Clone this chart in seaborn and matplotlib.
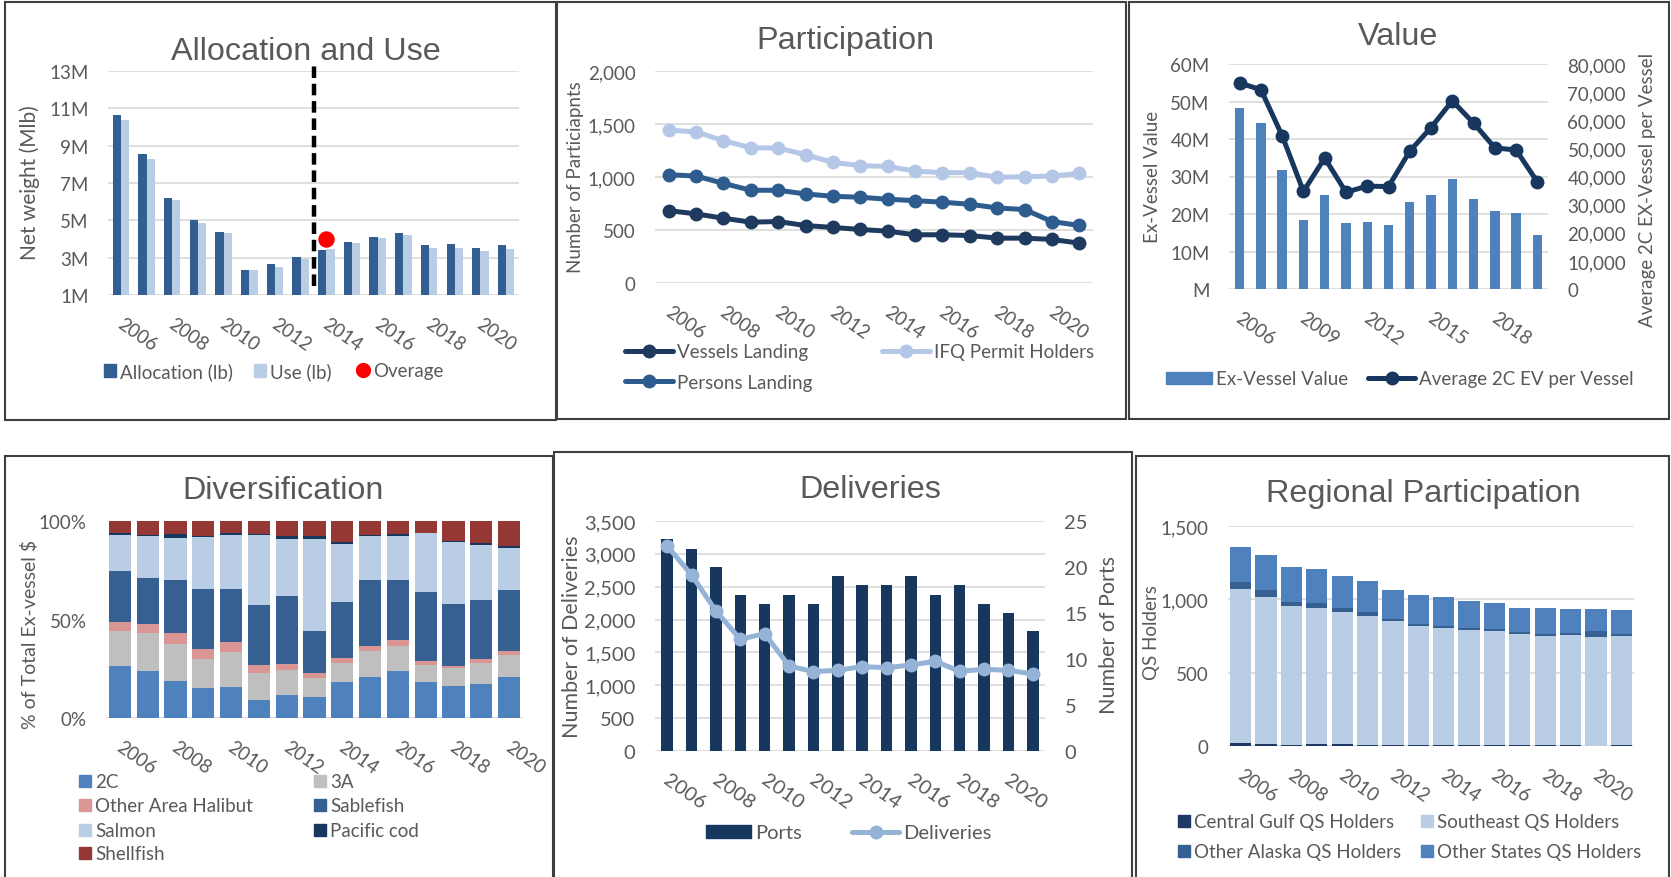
import numpy as np
import pandas as pd
import matplotlib
matplotlib.use("Agg")
import matplotlib.pyplot as plt
import seaborn as sns
from matplotlib.patches import Rectangle, Patch
from matplotlib.lines import Line2D
from matplotlib.transforms import ScaledTranslation

# ---------------- data ----------------
years_16 = list(range(2006, 2022))
years_15 = list(range(2006, 2021))

# Allocation and Use (lb)
allocation_lb = [10.63e6, 8.54e6, 6.21e6, 5.04e6, 4.39e6, 2.34e6, 2.64e6, 3.04e6,
                 3.41e6, 3.86e6, 4.11e6, 4.34e6, 3.66e6, 3.71e6, 3.54e6, 3.66e6]
use_lb = [10.38e6, 8.30e6, 6.11e6, 4.84e6, 4.34e6, 2.34e6, 2.52e6, 2.91e6,
          3.48e6, 3.77e6, 4.04e6, 4.23e6, 3.54e6, 3.54e6, 3.34e6, 3.48e6]
overage_year = [2014]
overage_lb = [3.98e6]
policy_break_year = 2014

# Participation
vessels_landing = [683, 652, 611, 574, 580, 542, 524, 505, 489, 455, 455, 448, 423, 423, 411, 376]
persons_landing = [1022, 1009, 940, 875, 875, 840, 818, 809, 790, 777, 762, 743, 708, 693, 580, 543]
ifq_permit_holders = [1442, 1426, 1342, 1276, 1273, 1210, 1138, 1107, 1100, 1056, 1041, 1041,
                      997, 1003, 1009, 1034]

# Value
ex_vessel_value = [48.4e6, 44.3e6, 31.8e6, 18.3e6, 25.2e6, 17.7e6, 18.0e6, 17.1e6,
                   23.1e6, 25.2e6, 29.3e6, 24.0e6, 20.8e6, 20.2e6, 14.5e6]
avg_2c_ev_per_vessel = [73200, 70900, 54500, 34700, 46600, 34400, 36600, 36400,
                        49000, 57400, 66900, 59000, 50200, 49400, 38100]

# Diversification (% of total ex-vessel $)
div_2c = [26.4, 24.0, 18.6, 15.0, 15.5, 9.1, 11.5, 10.8, 18.1, 20.9, 24.0, 18.1, 16.2, 17.4, 20.9]
div_3a = [17.7, 18.9, 18.9, 14.9, 17.9, 13.7, 13.0, 9.6, 9.9, 13.1, 12.5, 8.9, 9.0, 10.6, 11.2]
div_other_halibut = [4.7, 4.7, 5.9, 4.9, 5.3, 4.1, 3.0, 2.2, 2.6, 2.8, 2.9, 1.7, 1.2, 1.7, 1.9]
div_sablefish = [25.7, 23.3, 26.4, 30.7, 26.8, 30.4, 34.5, 21.7, 28.5, 33.0, 30.9, 35.2, 31.4, 30.4, 31.0]
div_salmon = [18.6, 21.5, 21.8, 26.2, 27.6, 35.8, 29.0, 46.7, 29.1, 22.6, 22.1, 30.0, 31.7, 27.6, 21.3]
div_pacific_cod = [0.8, 0.5, 1.6, 0.5, 0.8, 0.3, 1.2, 1.2, 1.0, 0.3, 0.8, 0.2, 0.4, 1.0, 1.2]
div_shellfish = [6.1, 7.1, 6.8, 7.8, 6.1, 6.6, 7.8, 7.8, 10.8, 7.3, 6.8, 5.9, 10.1, 11.3, 12.5]

# Deliveries
ports = [23, 22, 20, 17, 16, 17, 16, 19, 18, 18, 19, 17, 18, 16, 15, 13]
deliveries = [3120, 2679, 2131, 1700, 1786, 1294, 1208, 1228, 1284, 1268, 1309, 1365,
              1213, 1243, 1228, 1172]

# Regional participation (QS holders)
qs_central_gulf = [23, 16, 9, 16, 16, 9, 9, 9, 9, 9, 9, 9, 9, 9, 3, 9]
qs_southeast = [1048, 1001, 944, 928, 896, 878, 842, 808, 794, 785, 776, 753, 744, 751, 741, 744]
qs_other_alaska = [48, 45, 29, 29, 30, 30, 14, 14, 12, 12, 12, 12, 14, 12, 39, 14]
qs_other_states = [238, 243, 239, 234, 215, 208, 197, 199, 199, 186, 179, 168, 175, 163, 152, 161]

# ---------------- style ----------------
sns.set_theme(style="white")
plt.rcParams["font.family"] = ["Lato", "DejaVu Sans"]
TITLE_FONT = ["Liberation Sans", "DejaVu Sans"]
GRAY = "#595959"
GRID = "#D9D9D9"

W, H = 1671, 878
fig = plt.figure(figsize=(W / 100, H / 100), dpi=100)
fig.patch.set_facecolor("white")


def px_axes(l, t, r, b):
    return fig.add_axes([l / W, 1 - b / H, (r - l) / W, (b - t) / H])


def border(l, t, r, b, lw=1.5, color="#3F3F3F"):
    fig.add_artist(Rectangle((l / W, 1 - b / H), (r - l) / W, (b - t) / H,
                             transform=fig.transFigure, fill=False, ec=color, lw=lw, zorder=20))


def ftext(x, y, s, size, rot=0, family=None, va="center"):
    fig.text(x / W, 1 - y / H, s, fontsize=size, rotation=rot, color=GRAY,
             ha="center", va=va, family=family if family else ["Lato", "DejaVu Sans"])


def title(x, y_base, s):
    fig.text(x / W, 1 - y_base / H, s, fontsize=23.3, color=GRAY, ha="center",
             va="baseline", family=TITLE_FONT)


def style_y(ax, ticks, labels, lim, fs, grid=True, right=False):
    ax.set_ylim(lim)
    ax.set_yticks(ticks)
    ax.set_yticklabels(labels)
    ax.tick_params(axis="y", length=0, pad=14, labelsize=fs, labelcolor=GRAY,
                   left=not right, labelleft=not right, right=right, labelright=right)
    if grid:
        ax.yaxis.grid(True, color=GRID, lw=1.2)
        ax.set_axisbelow(True)
    else:
        ax.yaxis.grid(False)
    ax.xaxis.grid(False)
    for s in ax.spines.values():
        s.set_visible(False)
    ax.set_ylabel("")
    ax.set_xlabel("")


def style_x(ax, years, step, fs):
    n = len(years)
    idx = list(range(0, n, step))
    ax.set_xlim(-0.5, n - 0.5)
    ax.set_xticks(idx)
    ax.set_xticklabels([str(years[i]) for i in idx], rotation=-35, ha="left", va="top",
                       rotation_mode="anchor")
    ax.tick_params(axis="x", length=0, pad=14, labelsize=fs, labelcolor=GRAY)
    for lbl in ax.get_xticklabels():
        lbl.set_transform(lbl.get_transform() + ScaledTranslation(3 / 100, 0, fig.dpi_scale_trans))
    ax.set_xlabel("")


def legend_item(handle, label, x, y, hw, hh=12, fs=13.5):
    em = fs * 100 / 72
    fig.legend([handle], [label], loc="center left",
               bbox_to_anchor=(x / W, 1 - y / H), bbox_transform=fig.transFigure,
               frameon=False, fontsize=fs, handlelength=hw / em, handleheight=hh / em,
               handletextpad=4 / em, borderpad=0, borderaxespad=0, labelcolor=GRAY)


# ---------------- panel borders ----------------
border(5, 3, 556, 421)
border(557, 3, 1126, 420)
border(1129, 3, 1669, 420)
border(5, 457, 553, 885)
border(554, 453, 1132, 885)
border(1136, 457, 1669, 885)

# ================= Panel 1: Allocation and Use =================
C_ALLOC, C_USE = "#335E91", "#B9CDE5"
ax1 = px_axes(108, 72, 519, 296)
df1 = pd.DataFrame({
    "year": years_16 * 2,
    "series": ["Allocation (lb)"] * 16 + ["Use (lb)"] * 16,
    "value": allocation_lb + use_lb,
})
sns.barplot(data=df1, x="year", y="value", hue="series",
            hue_order=["Allocation (lb)", "Use (lb)"], palette=[C_ALLOC, C_USE],
            width=0.64, gap=0, dodge=True, errorbar=None, saturation=1,
            legend=False, linewidth=0, ax=ax1)
ov_idx = [years_16.index(y) for y in overage_year]
sns.scatterplot(x=ov_idx, y=overage_lb, color="#FF0000", s=140, linewidth=0,
                ax=ax1, zorder=5, legend=False)
brk = years_16.index(policy_break_year) - 0.5
ax1.plot([brk, brk], [1.5e6, 13.25e6], color="black", lw=3.2, ls=(0, (2.6, 1.3)),
         clip_on=False, zorder=6)
style_y(ax1, [v * 1e6 for v in range(1, 14, 2)], [f"{v}M" for v in range(1, 14, 2)],
        (1e6, 13e6), 13.5)
style_x(ax1, years_16, 2, 13.5)
title(306, 60, "Allocation and Use")
ftext(30, 183, "Net weight (Mlb)", 15, rot=90)
legend_item(Patch(color=C_ALLOC), "Allocation (lb)", 104, 372, 12)
legend_item(Patch(color=C_USE), "Use (lb)", 254, 372, 12)
legend_item(Line2D([], [], marker="o", color="#FF0000", ls="None", markersize=11,
                   markeredgewidth=0), "Overage", 357, 372, 12)

# ================= Panel 2: Participation =================
C_VES, C_PER, C_IFQ = "#1F3A5F", "#2E5C8F", "#B4C7E7"
ax2 = px_axes(655, 72, 1093, 284)
x16 = np.arange(len(years_16))
for vals, c in [(ifq_permit_holders, C_IFQ), (persons_landing, C_PER), (vessels_landing, C_VES)]:
    sns.lineplot(x=x16, y=vals, color=c, lw=3.6, marker="o", markersize=10,
                 markeredgewidth=0, ax=ax2, legend=False)
style_y(ax2, [0, 500, 1000, 1500, 2000], ["0", "500", "1,000", "1,500", "2,000"],
        (0, 2000), 13.5)
style_x(ax2, years_16, 2, 13.5)
title(845, 49, "Participation")
ftext(575, 177, "Number of Particiapnts", 13.5, rot=90)
legend_item(Line2D([], [], color=C_VES, lw=3.6, marker="o", markersize=10, markeredgewidth=0),
            "Vessels Landing", 625, 353, 48)
legend_item(Line2D([], [], color=C_IFQ, lw=3.6, marker="o", markersize=10, markeredgewidth=0),
            "IFQ Permit Holders", 882, 353, 48)
legend_item(Line2D([], [], color=C_PER, lw=3.6, marker="o", markersize=10, markeredgewidth=0),
            "Persons Landing", 625, 383, 48)

# ================= Panel 3: Value =================
C_EV, C_AVG = "#4F81BD", "#17375E"
ax3 = px_axes(1229, 65, 1548, 290)
sns.barplot(x=years_15, y=ex_vessel_value, color=C_EV, width=0.44, saturation=1,
            errorbar=None, linewidth=0, ax=ax3)
ax3b = ax3.twinx()
sns.lineplot(x=np.arange(len(years_15)), y=avg_2c_ev_per_vessel, color=C_AVG, lw=3.6,
             marker="o", markersize=10, markeredgewidth=0, ax=ax3b, legend=False)
style_y(ax3, [v * 1e7 for v in range(7)], ["M"] + [f"{v}0M" for v in range(1, 7)],
        (0, 6e7), 13.5)
style_y(ax3b, list(range(0, 80001, 10000)), [f"{v:,}" for v in range(0, 80001, 10000)],
        (0, 80000), 13.5, grid=False, right=True)
style_x(ax3, years_15, 3, 13.5)
title(1398, 45, "Value")
ftext(1153, 177, "Ex-Vessel Value", 13.5, rot=90)
ftext(1647, 190, "Average 2C EX-Vessel per Vessel", 13.5, rot=90)
legend_item(Patch(color=C_EV), "Ex-Vessel Value", 1166, 380, 46)
legend_item(Line2D([], [], color=C_AVG, lw=3.6, marker="o", markersize=10, markeredgewidth=0),
            "Average 2C EV per Vessel", 1368, 380, 47)

# ================= Panel 4: Diversification =================
div_series = [("2C", div_2c, "#4F81BD"), ("3A", div_3a, "#BFBFBF"),
              ("Other Area Halibut", div_other_halibut, "#DA9694"),
              ("Sablefish", div_sablefish, "#366092"), ("Salmon", div_salmon, "#B9CDE5"),
              ("Pacific cod", div_pacific_cod, "#17375E"), ("Shellfish", div_shellfish, "#953735")]
ax4 = px_axes(106, 522, 523, 719)
cum = np.cumsum(np.array([s[1] for s in div_series]), axis=0)
cum = cum / cum[-1] * 100
for k in range(len(div_series) - 1, -1, -1):
    sns.barplot(x=years_15, y=cum[k], color=div_series[k][2], width=0.8, saturation=1,
                errorbar=None, linewidth=0, ax=ax4)
style_y(ax4, [0, 50, 100], ["0%", "50%", "100%"], (0, 100), 13.5, grid=False)
ax4.axhline(0, color=GRID, lw=1.5, zorder=0.5)
style_x(ax4, years_15, 2, 13.5)
title(283, 499, "Diversification")
ftext(30, 635, "% of Total Ex-vessel $", 14, rot=90)
leg_pos = [(79, 783), (314, 783), (79, 807), (314, 807), (79, 832), (314, 832), (79, 855)]
for (name, _, c), (lx, ly) in zip(div_series, leg_pos):
    legend_item(Patch(color=c), name, lx, ly, 12)

# ================= Panel 5: Deliveries =================
C_PORTS, C_DEL = "#17375E", "#95B3D7"
ax5 = px_axes(655, 522, 1045, 752)
ax5b = ax5.twinx()
sns.barplot(x=years_16, y=ports, color=C_PORTS, width=0.47, saturation=1,
            errorbar=None, linewidth=0, ax=ax5b)
ax5c = ax5.twinx()
sns.lineplot(x=np.arange(len(years_16)), y=deliveries, color=C_DEL, lw=3.6, marker="o",
             markersize=10, markeredgewidth=0, ax=ax5c, legend=False)
ax5c.set_ylim(0, 3500)
ax5c.set_yticks([])
for s in ax5c.spines.values():
    s.set_visible(False)
ax5c.set_ylabel("")
style_y(ax5, list(range(0, 3501, 500)), [f"{v:,}" for v in range(0, 3501, 500)],
        (0, 3500), 14.5)
style_y(ax5b, list(range(0, 26, 5)), [str(v) for v in range(0, 26, 5)], (0, 25), 14.5,
        grid=False, right=True)
style_x(ax5, years_16, 2, 14.5)
title(870, 498, "Deliveries")
ftext(572, 637, "Number of Deliveries", 15.5, rot=90)
ftext(1109, 635, "Number of Ports", 15.5, rot=90)
legend_item(Patch(color=C_PORTS), "Ports", 706, 834, 45, fs=14.5)
legend_item(Line2D([], [], color=C_DEL, lw=3.6, marker="o", markersize=10, markeredgewidth=0),
            "Deliveries", 852, 834, 47, fs=14.5)

# ================= Panel 6: Regional Participation =================
reg_series = [("Central Gulf QS Holders", qs_central_gulf, "#203864"),
              ("Southeast QS Holders", qs_southeast, "#B9CDE5"),
              ("Other Alaska QS Holders", qs_other_alaska, "#366092"),
              ("Other States QS Holders", qs_other_states, "#4F81BD")]
ax6 = px_axes(1228, 527, 1634, 747)
cum6 = np.cumsum(np.array([s[1] for s in reg_series]), axis=0)
for k in range(len(reg_series) - 1, -1, -1):
    sns.barplot(x=years_16, y=cum6[k], color=reg_series[k][2], width=0.84, saturation=1,
                errorbar=None, linewidth=0, ax=ax6)
style_y(ax6, [0, 500, 1000, 1500], ["0", "500", "1,000", "1,500"], (0, 1500), 13.5)
style_x(ax6, years_16, 2, 13.5)
title(1423, 502, "Regional Participation")
ftext(1152, 633, "QS Holders", 13.5, rot=90)
leg6 = [(1178, 823), (1421, 823), (1178, 853), (1421, 853)]
for (name, _, c), (lx, ly) in zip(reg_series, leg6):
    legend_item(Patch(color=c), name, lx, ly, 12)

fig.savefig("out.png", dpi=100, facecolor="white")
